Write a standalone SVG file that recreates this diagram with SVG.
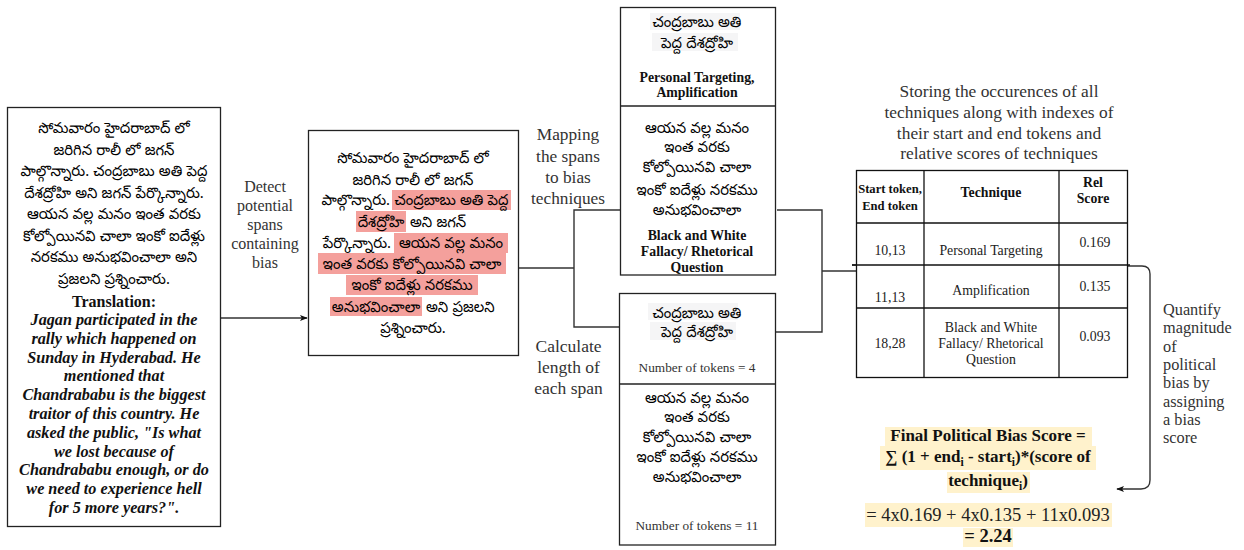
<svg xmlns="http://www.w3.org/2000/svg" width="1244" height="550" viewBox="0 0 1244 550">
<defs>
<style>
.box{fill:#fff;stroke:#222;stroke-width:1.3}
.te{font-family:"Noto Sans Telugu","Lohit Telugu","Noto Sans",sans-serif;font-size:14.8px;fill:#000;text-anchor:middle}
.ser{font-family:"Liberation Serif","Times New Roman",serif;fill:#333;text-anchor:middle}
.bd{font-weight:bold;fill:#111}
.tr{font-family:"Liberation Serif",serif;font-size:16.2px;font-weight:bold;font-style:italic;fill:#111;text-anchor:middle}
.tbl{font-family:"Liberation Serif",serif;font-size:13.8px;fill:#222;text-anchor:middle}
.hl{fill:#f4a09c}
.gy{fill:#f5f5f6}
.yl{fill:#fff2cc}
.con{fill:none;stroke:#333;stroke-width:1.4}
</style>
<marker id="arr" viewBox="0 0 10 10" refX="9" refY="5" markerWidth="8" markerHeight="8" orient="auto" markerUnits="userSpaceOnUse">
<path d="M0,1 L10,5 L0,9 L2.5,5 z" fill="#111"/>
</marker>
</defs>

<g id="connectors">
<line class="con" x1="220" y1="318" x2="307" y2="318" marker-end="url(#arr)"/>
<polyline class="con" points="518,268 574,268"/>
<polyline class="con" points="620,210 574,210 574,327 620,327"/>
<polyline class="con" points="777,210 822,210 822,332 775,332"/>
<polyline class="con" points="822,271 857,271"/>
<line class="con" x1="852" y1="265" x2="857" y2="265"/>
<path class="con" d="M1127,266 L1142,266 Q1150,266 1150,274 L1150,480 Q1150,489 1141,489 L1117,489" marker-end="url(#arr)"/>
</g>

<g id="labels">
<text class="ser" style="font-size:16px"><tspan x="265" y="192">Detect</tspan><tspan x="265" y="211">potential</tspan><tspan x="265" y="230">spans</tspan><tspan x="265" y="249">containing</tspan><tspan x="265" y="268">bias</tspan></text>
<text class="ser" style="font-size:17.3px"><tspan x="568" y="140">Mapping</tspan><tspan x="568" y="161.5">the spans</tspan><tspan x="568" y="183">to bias</tspan><tspan x="568" y="204">techniques</tspan></text>
<text class="ser" style="font-size:17.5px"><tspan x="568.5" y="352">Calculate</tspan><tspan x="568.5" y="373">length of</tspan><tspan x="568.5" y="393.5">each span</tspan></text>
<text class="ser" style="font-size:17.4px"><tspan x="999" y="97">Storing the occurences of all</tspan><tspan x="999" y="118">techniques along with indexes of</tspan><tspan x="999" y="138.5">their start and end tokens and</tspan><tspan x="999" y="159">relative scores of techniques</tspan></text>
<text class="ser" style="font-size:16.3px;text-anchor:start"><tspan x="1163" y="315">Quantify</tspan><tspan x="1163" y="333.3">magnitude</tspan><tspan x="1163" y="351.6">of</tspan><tspan x="1163" y="369.9">political</tspan><tspan x="1163" y="388.2">bias by</tspan><tspan x="1163" y="406.5">assigning</tspan><tspan x="1163" y="424.8">a bias</tspan><tspan x="1163" y="443">score</tspan></text>
</g>

<g id="input-text">
<rect class="box" x="7.5" y="107.5" width="213" height="419"/>
<text class="te"><tspan x="114" y="133">సోమవారం హైదరాబాద్ లో</tspan><tspan x="114" y="155">జరిగిన రాలీ లో జగన్</tspan><tspan x="114" y="176">పాల్గొన్నారు. చంద్రబాబు అతి పెద్ద</tspan><tspan x="114" y="198">దేశద్రోహి అని జగన్ పేర్కొన్నారు.</tspan><tspan x="114" y="219">ఆయన వల్ల మనం ఇంత వరకు</tspan><tspan x="114" y="241">కోల్పోయినవి చాలా ఇంకో ఐదేళ్లు</tspan><tspan x="114" y="262">నరకము అనుభవించాలా అని</tspan><tspan x="114" y="284">ప్రజలని ప్రశ్నించారు.</tspan></text>
<text class="ser bd" x="114" y="307" style="font-size:16px">Translation:</text>
<text class="tr"><tspan x="114" y="325">Jagan participated in the</tspan><tspan x="114" y="343.8">rally which happened on</tspan><tspan x="114" y="362.6">Sunday in Hyderabad. He</tspan><tspan x="114" y="381.4">mentioned that</tspan><tspan x="114" y="400.2">Chandrababu is the biggest</tspan><tspan x="114" y="419">traitor of this country. He</tspan><tspan x="114" y="437.8">asked the public, "Is what</tspan><tspan x="114" y="456.6">we lost because of</tspan><tspan x="114" y="475.4">Chandrababu enough, or do</tspan><tspan x="114" y="494.2">we need to experience hell</tspan><tspan x="114" y="513">for 5 more years?".</tspan></text>
</g>

<g id="detected-spans">
<rect class="box" x="308.5" y="130.5" width="210" height="225"/>
<rect class="hl" x="392" y="190" width="119" height="20"/>
<rect class="hl" x="356" y="211" width="50" height="21"/>
<rect class="hl" x="394" y="233" width="114" height="20"/>
<rect class="hl" x="318" y="253" width="188" height="21"/>
<rect class="hl" x="346" y="275" width="132" height="20"/>
<rect class="hl" x="330" y="297" width="92" height="19"/>
<text class="te" x="413" y="163">సోమవారం హైదరాబాద్ లో</text>
<text class="te" x="413" y="185">జరిగిన రాలీ లో జగన్</text>
<text class="te" x="390" y="205" style="text-anchor:end">పాల్గొన్నారు.</text>
<text class="te" x="451.5" y="205">చంద్రబాబు అతి పెద్ద</text>
<text class="te" x="381" y="227">దేశద్రోహి</text>
<text class="te" x="410" y="227" style="text-anchor:start">అని జగన్</text>
<text class="te" x="391" y="248" style="text-anchor:end">పేర్కొన్నారు.</text>
<text class="te" x="451" y="248">ఆయన వల్ల మనం</text>
<text class="te" x="412" y="269">ఇంత వరకు కోల్పోయినవి చాలా</text>
<text class="te" x="412" y="290">ఇంకో ఐదేళ్లు నరకము</text>
<text class="te" x="376" y="312">అనుభవించాలా</text>
<text class="te" x="426" y="312" style="text-anchor:start">అని ప్రజలని</text>
<text class="te" x="413" y="333">ప్రశ్నించారు.</text>
</g>

<g id="technique-mapping">
<rect class="box" x="620.5" y="7.5" width="155" height="267.5"/>
<line x1="620.5" y1="106" x2="775.5" y2="106" style="stroke:#222;stroke-width:1.3"/>
<rect class="gy" x="650" y="13" width="90" height="17"/>
<rect class="gy" x="652" y="33" width="86" height="18"/>
<text class="te"><tspan x="697" y="27">చంద్రబాబు అతి</tspan><tspan x="697" y="48">పెద్ద దేశద్రోహి</tspan></text>
<text class="ser bd" style="font-size:13.8px"><tspan x="697" y="82">Personal Targeting,</tspan><tspan x="697" y="97">Amplification</tspan></text>
<text class="te"><tspan x="697" y="133">ఆయన వల్ల మనం</tspan><tspan x="697" y="152">ఇంత వరకు</tspan><tspan x="697" y="172">కోల్పోయినవి చాలా</tspan><tspan x="697" y="195">ఇంకో ఐదేళ్లు నరకము</tspan><tspan x="697" y="215">అనుభవించాలా</tspan></text>
<text class="ser bd" style="font-size:13.8px"><tspan x="697" y="240">Black and White</tspan><tspan x="697" y="256">Fallacy/ Rhetorical</tspan><tspan x="697" y="272">Question</tspan></text>
</g>

<g id="span-lengths">
<rect class="box" x="619.5" y="293.5" width="156" height="251.5"/>
<line x1="619.5" y1="384" x2="775.5" y2="384" style="stroke:#222;stroke-width:1.3"/>
<rect class="gy" x="648" y="303" width="90" height="17"/>
<rect class="gy" x="650" y="322" width="86" height="18"/>
<text class="te"><tspan x="697" y="318">చంద్రబాబు అతి</tspan><tspan x="697" y="337">పెద్ద దేశద్రోహి</tspan></text>
<text class="ser" style="font-size:13.3px" x="697" y="372">Number of tokens = 4</text>
<text class="te"><tspan x="697" y="403">ఆయన వల్ల మనం</tspan><tspan x="697" y="422">ఇంత వరకు</tspan><tspan x="697" y="442">కోల్పోయినవి చాలా</tspan><tspan x="697" y="462">ఇంకో ఐదేళ్లు నరకము</tspan><tspan x="697" y="482">అనుభవించాలా</tspan></text>
<text class="ser" style="font-size:13.3px" x="697" y="530">Number of tokens = 11</text>
</g>

<g id="technique-table">
<rect x="856.5" y="170.5" width="271" height="207" fill="#fff" stroke="#111" stroke-width="1.3"/>
<g stroke="#111" stroke-width="1.3">
<line x1="856.5" y1="223" x2="1127.5" y2="223"/>
<line x1="852" y1="265" x2="1130" y2="265"/>
<line x1="856.5" y1="308" x2="1127.5" y2="308"/>
<line x1="924" y1="170.5" x2="924" y2="377.5"/>
<line x1="1059" y1="170.5" x2="1059" y2="377.5"/>
</g>
<text class="tbl" style="font-weight:bold;font-size:12.6px;fill:#111"><tspan x="890" y="193">Start token,</tspan><tspan x="890" y="210">End token</tspan></text>
<text class="tbl" style="font-weight:bold;fill:#111" x="991" y="197">Technique</text>
<text class="tbl" style="font-weight:bold;fill:#111"><tspan x="1093" y="187">Rel</tspan><tspan x="1093" y="203">Score</tspan></text>
<text class="tbl" x="890" y="255">10,13</text>
<text class="tbl" x="991" y="255">Personal Targeting</text>
<text class="tbl" x="1095" y="247">0.169</text>
<text class="tbl" x="890" y="302">11,13</text>
<text class="tbl" x="991" y="295">Amplification</text>
<text class="tbl" x="1095" y="291">0.135</text>
<text class="tbl" x="890" y="348">18,28</text>
<text class="tbl"><tspan x="991" y="332">Black and White</tspan><tspan x="991" y="348">Fallacy/ Rhetorical</tspan><tspan x="991" y="364">Question</tspan></text>
<text class="tbl" x="1095" y="341">0.093</text>
</g>

<g id="final-score">
<rect class="yl" x="885" y="427" width="207" height="19"/>
<rect class="yl" x="880" y="446" width="216" height="24"/>
<rect class="yl" x="947" y="472" width="83" height="21"/>
<rect class="yl" x="865" y="503" width="247" height="24"/>
<rect class="yl" x="963" y="528" width="50" height="19"/>
<text class="ser bd" style="font-size:17px" x="988" y="441">Final Political Bias Score =</text>
<text class="ser bd" style="font-size:17px" x="988" y="462">∑ (1 + end<tspan style="font-size:11.5px" dy="4">i</tspan><tspan dy="-4"> - start</tspan><tspan style="font-size:11.5px" dy="4">i</tspan><tspan dy="-4">)*(score of</tspan></text>
<text class="ser bd" style="font-size:17px" x="988" y="486">technique<tspan style="font-size:11.5px" dy="4">i</tspan><tspan dy="-4">)</tspan></text>
<text class="ser" style="font-size:18.5px;fill:#222" x="988" y="521">= 4x0.169 + 4x0.135 + 11x0.093</text>
<text class="ser bd" style="font-size:18.5px" x="988" y="542">= 2.24</text>
</g>
</svg>
